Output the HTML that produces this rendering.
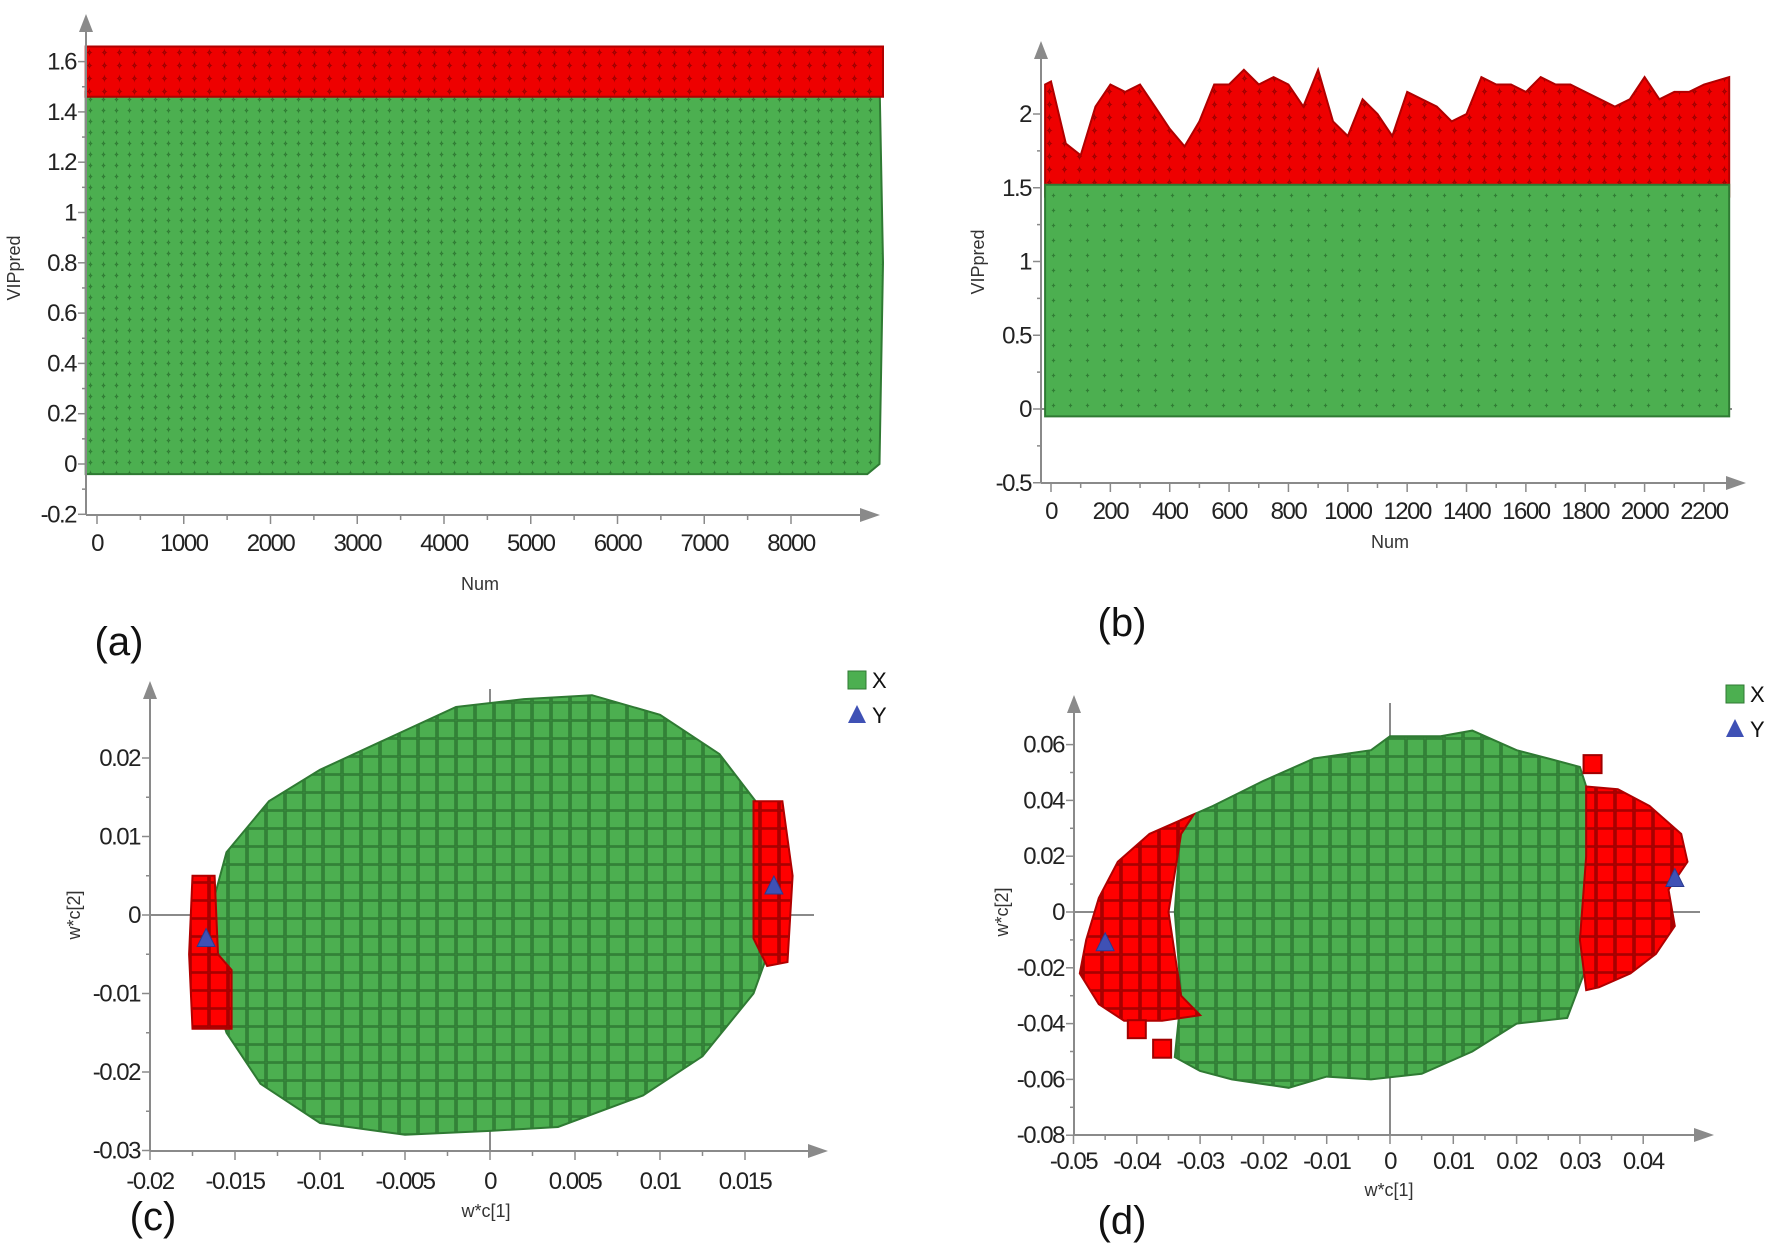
<!DOCTYPE html>
<html><head><meta charset="utf-8">
<style>
html,body{margin:0;padding:0;background:#fff;}
svg{display:block;font-family:"Liberation Sans",sans-serif;}
.tk{font-size:24px;fill:#222;letter-spacing:-1.5px;}
.ttl{font-size:18px;fill:#333;}
.pl{font-size:40px;fill:#111;}
</style></head>
<body>
<svg id="fig" width="1772" height="1258" viewBox="0 0 1772 1258" xmlns="http://www.w3.org/2000/svg">
<defs>
<pattern id="pg" width="13" height="11" patternUnits="userSpaceOnUse"><rect width="13" height="11" fill="#47a84b"/><circle cx="6" cy="6" r="8" fill="#4caf50" stroke="#2f7a33" stroke-width="1.4"/></pattern>
<pattern id="pgb" width="17" height="15" patternUnits="userSpaceOnUse"><rect width="17" height="15" fill="#45a149"/><circle cx="8" cy="8" r="11" fill="#4caf50" stroke="#2f7a33" stroke-width="1.5"/></pattern>
<pattern id="pr" width="15" height="13" patternUnits="userSpaceOnUse"><rect width="15" height="13" fill="#d00000"/><circle cx="7" cy="7" r="9" fill="#ee0000" stroke="#a00000" stroke-width="1.4"/></pattern>
<pattern id="ps" width="19" height="18" patternUnits="userSpaceOnUse"><rect width="19" height="18" fill="#3f9a44"/><rect x="1" y="1" width="17" height="17" fill="#4caf50" stroke="#2f7a33" stroke-width="1.5"/></pattern>
<pattern id="psr" width="19" height="18" patternUnits="userSpaceOnUse"><rect width="19" height="18" fill="#c00000"/><rect x="1" y="1" width="17" height="17" fill="#ff0000" stroke="#a00000" stroke-width="1.5"/></pattern>
</defs>
<g id="root"></g>
</svg>
<script>
// ---- panel (a) data ----
const aXTicks=[0,1000,2000,3000,4000,5000,6000,7000,8000];
const aYTicks=[-0.2,0,0.2,0.4,0.6,0.8,1,1.2,1.4,1.6];
const aGreenX=[-130,8880,9020,9060,9020,8880,-130];
const aGreenY=[-0.04,-0.04,0.0,0.8,1.53,1.48,1.48];
const aRedX=[-130,9060,9060,-130];
const aRedY=[1.46,1.46,1.66,1.66];
// ---- panel (b) data ----
const bXTicks=[0,200,400,600,800,1000,1200,1400,1600,1800,2000,2200];
const bYTicks=[-0.5,0,0.5,1,1.5,2];
const bTopX=[-20,0,50,100,150,200,250,300,350,400,450,500,550,600,650,700,750,800,850,900,950,1000,1050,1100,1150,1200,1250,1300,1350,1400,1450,1500,1550,1600,1650,1700,1750,1800,1850,1900,1950,2000,2050,2100,2150,2200,2285];
const bTopY=[2.2,2.22,1.8,1.72,2.05,2.2,2.15,2.2,2.05,1.9,1.78,1.95,2.2,2.2,2.3,2.2,2.25,2.2,2.05,2.3,1.95,1.85,2.1,2.0,1.85,2.15,2.1,2.05,1.95,2.0,2.25,2.2,2.2,2.15,2.25,2.2,2.2,2.15,2.1,2.05,2.1,2.25,2.1,2.15,2.15,2.2,2.25];
const bGreenX=[-20,2285,2285,-20];
const bGreenY=[-0.05,-0.05,1.52,1.52];
// ---- panel (c) data ----
const cXTicks=[-0.02,-0.015,-0.01,-0.005,0,0.005,0.01,0.015];
const cYTicks=[-0.03,-0.02,-0.01,0,0.01,0.02];
const cGreenX=[-0.0165,-0.0155,-0.013,-0.01,-0.005,-0.002,0.002,0.006,0.01,0.0135,0.0158,0.0168,0.0165,0.0155,0.0125,0.009,0.004,0,-0.005,-0.01,-0.0135,-0.0155,-0.0165];
const cGreenY=[0.0,0.008,0.0145,0.0185,0.0235,0.0265,0.0275,0.028,0.0255,0.0205,0.014,0.005,-0.004,-0.01,-0.018,-0.023,-0.027,-0.0275,-0.028,-0.0265,-0.0215,-0.015,-0.008];
const cRedLX=[-0.0175,-0.0162,-0.016,-0.0152,-0.0152,-0.0175,-0.0177];
const cRedLY=[0.005,0.005,-0.005,-0.007,-0.0145,-0.0145,-0.005];
const cRedRX=[0.0155,0.0172,0.0178,0.0175,0.0163,0.0155];
const cRedRY=[0.0145,0.0145,0.005,-0.006,-0.0065,-0.003];
const cYPtsX=[-0.0167,0.0167];
const cYPtsY=[-0.003,0.0037];
// ---- panel (d) data ----
const dXTicks=[-0.05,-0.04,-0.03,-0.02,-0.01,0,0.01,0.02,0.03,0.04];
const dYTicks=[-0.08,-0.06,-0.04,-0.02,0,0.02,0.04,0.06];
const dGreenX=[-0.033,-0.028,-0.02,-0.012,-0.003,0,0.008,0.013,0.02,0.025,0.03,0.031,0.031,0.028,0.02,0.013,0.005,-0.003,-0.01,-0.016,-0.025,-0.03,-0.034,-0.033,-0.034];
const dGreenY=[0.033,0.038,0.047,0.055,0.058,0.063,0.063,0.065,0.058,0.055,0.052,0.045,-0.02,-0.038,-0.04,-0.05,-0.058,-0.06,-0.059,-0.063,-0.06,-0.057,-0.052,-0.03,0.0];
const dRedLX=[-0.031,-0.033,-0.035,-0.033,-0.03,-0.036,-0.042,-0.046,-0.049,-0.048,-0.046,-0.043,-0.038];
const dRedLY=[0.035,0.028,0.0,-0.03,-0.037,-0.039,-0.039,-0.033,-0.022,-0.01,0.005,0.018,0.028];
const dRedRX=[0.031,0.036,0.041,0.046,0.047,0.044,0.045,0.042,0.038,0.033,0.031,0.03,0.031];
const dRedRY=[0.045,0.044,0.038,0.028,0.018,0.008,-0.005,-0.015,-0.022,-0.027,-0.028,-0.01,0.02];
const dOutX=[0.032,-0.036,-0.040];
const dOutY=[0.053,-0.049,-0.042];
const dYPtsX=[-0.045,0.045];
const dYPtsY=[-0.011,0.012];

const NS="http://www.w3.org/2000/svg";
const root=document.getElementById('root');
function mk(tag,attrs,parent){const e=document.createElementNS(NS,tag);for(const k in attrs)e.setAttribute(k,attrs[k]);(parent||root).appendChild(e);return e;}
function poly(xs,ys,sx,sy,fill,stroke,name,g){
  const pts=xs.map((x,i)=>sx(x).toFixed(1)+','+sy(ys[i]).toFixed(1)).join(' ');
  const p=mk('polygon',{points:pts,fill:fill,stroke:stroke,'stroke-width':2},g);
  
  
  return p;
}
function axes(o,g){
  const c='#8a8a8a';
  // axis lines
  const ya=mk('line',{x1:o.ax,y1:o.ay,x2:o.ax,y2:o.ytop+14,stroke:c,'stroke-width':2},g);
  
  
  mk('polygon',{points:`${o.ax-7},${o.ytop+18} ${o.ax+7},${o.ytop+18} ${o.ax},${o.ytop}`,fill:c},g);
  const xa=mk('line',{x1:o.ax,y1:o.ay,x2:o.xend-14,y2:o.ay,stroke:c,'stroke-width':2},g);
  
  
  mk('polygon',{points:`${o.xend-20},${o.ay-7} ${o.xend-20},${o.ay+7} ${o.xend},${o.ay}`,fill:c},g);
  o.xt.forEach((v,i)=>{
    const x=o.sx(v);
    mk('line',{x1:x,y1:o.ay,x2:x,y2:o.ay+9,stroke:c,'stroke-width':1.5},g);
    if(i<o.xt.length-1){const xm=(x+o.sx(o.xt[i+1]))/2;mk('line',{x1:xm,y1:o.ay,x2:xm,y2:o.ay+5,stroke:c,'stroke-width':1.5},g);}
    const t=mk('text',{x:x,y:o.ay+o.xlo,'text-anchor':'middle',class:'tk','font-size':o.fs},g);
    t.textContent=(''+v);
    
    
  });
  o.yt.forEach((v,i)=>{
    const y=o.sy(v);
    mk('line',{x1:o.ax-8,y1:y,x2:o.ax,y2:y,stroke:c,'stroke-width':1.5},g);
    if(i<o.yt.length-1){const ym=(y+o.sy(o.yt[i+1]))/2;mk('line',{x1:o.ax-4,y1:ym,x2:o.ax,y2:ym,stroke:c,'stroke-width':1.5},g);}
    const t=mk('text',{x:o.ax-10,y:y+8,'text-anchor':'end',class:'tk','font-size':o.fs},g);
    t.textContent=(''+v);
    
    
  });
  const xt=mk('text',{x:o.xtx,y:o.xty,'text-anchor':'middle',class:'ttl'},g);
  xt.textContent=o.xtitle;
  
  
  const yt=mk('text',{x:0,y:0,'text-anchor':'middle',class:'ttl',transform:`translate(${o.ytx},${o.yty}) rotate(-90)`},g);
  yt.textContent=o.ytitle;
  
  
  const pl=mk('text',{x:o.plx,y:o.ply,'text-anchor':'middle',class:'pl'},g);
  pl.textContent=o.plabel;
  
  
}
function zeroLines(o,g,vert){
  const h=mk('line',{x1:o.ax,y1:o.sy(0),x2:o.xend-14,y2:o.sy(0),stroke:'#8a8a8a','stroke-width':2},g);
  
  
  if(vert){const v=mk('line',{x1:o.sx(0),y1:o.ay,x2:o.sx(0),y2:o.ytop+8,stroke:'#8a8a8a','stroke-width':2},g);
  
  }
}
function tri(x,y,g){const t=mk('polygon',{points:`${x-9},${y+8} ${x+9},${y+8} ${x},${y-10}`,fill:'#3f51b5',stroke:'#2a3a90','stroke-width':1},g);
  
  }
function legend(x,y,g){
  const lg=mk('g',{},g);
  
  
  mk('rect',{x:x,y:y,width:18,height:18,fill:'#4caf50',stroke:'#2f7a33'},lg);
  const a=mk('text',{x:x+24,y:y+17,style:'font-size:22px;fill:#111'},lg);a.textContent='X';
  
  
  mk('polygon',{points:`${x},${y+52} ${x+18},${y+52} ${x+9},${y+34}`,fill:'#3f51b5'},lg);
  const b=mk('text',{x:x+24,y:y+52,style:'font-size:22px;fill:#111'},lg);b.textContent='Y';
  
  
}

// Panel a
(function(){
  const g=mk('g',{});
  const sx=v=>97+v*0.08675, sy=v=>464-v*251.5;
  const o={sx,sy,ax:86,ay:515,ytop:14,xend:880,xt:aXTicks,yt:aYTicks,fs:24,xlo:36,xtitle:'Num',xtx:480,xty:590,ytitle:'VIPpred',ytx:20,yty:268,plabel:'(a)',plx:119,ply:655};
  zeroLines(o,g,false);
  poly(aGreenX,aGreenY,sx,sy,'url(#pg)','#2f7a33','green-points',g);
  poly(aRedX,aRedY,sx,sy,'url(#pr)','#b00000','red-points',g);
  axes(o,g);
})();
// Panel b
(function(){
  const g=mk('g',{});
  const sx=v=>1051+v*0.2968, sy=v=>409-v*147.5;
  const o={sx,sy,ax:1041,ay:483,ytop:41,xend:1746,xt:bXTicks,yt:bYTicks,fs:22,xlo:36,xtitle:'Num',xtx:1390,xty:548,ytitle:'VIPpred',ytx:984,yty:262,plabel:'(b)',plx:1122,ply:636};
  zeroLines(o,g,false);
  const rx=bTopX.concat([2285,-20]), ry=bTopY.concat([1.44,1.44]);
  poly(rx,ry,sx,sy,'url(#pr)','#b00000','red-points',g);
  poly(bGreenX,bGreenY,sx,sy,'url(#pgb)','#2f7a33','green-points',g);
  axes(o,g);
})();
// Panel c
(function(){
  const g=mk('g',{});
  const sx=v=>490+v*17000, sy=v=>915-v*7850;
  const o={sx,sy,ax:150,ay:1151,ytop:681,xend:828,xt:cXTicks,yt:cYTicks,fs:24,xlo:38,xtitle:'w*c[1]',xtx:486,xty:1217,ytitle:'w*c[2]',ytx:80,yty:915,plabel:'(c)',plx:153,ply:1230};
  zeroLines(o,g,true);
  poly(cGreenX,cGreenY,sx,sy,'url(#ps)','#2f7a33','green-squares',g);
  poly(cRedLX,cRedLY,sx,sy,'url(#psr)','#b00000','red-squares-left',g);
  poly(cRedRX,cRedRY,sx,sy,'url(#psr)','#b00000','red-squares-right',g);
  cYPtsX.forEach((x,i)=>tri(sx(x),sy(cYPtsY[i]),g));
  axes(o,g);
  legend(848,671,g);
})();
// Panel d
(function(){
  const g=mk('g',{});
  const sx=v=>1390+v*6330, sy=v=>912-v*2790;
  const o={sx,sy,ax:1074,ay:1135,ytop:695,xend:1714,xt:dXTicks,yt:dYTicks,fs:22,xlo:34,xtitle:'w*c[1]',xtx:1389,xty:1196,ytitle:'w*c[2]',ytx:1008,yty:912,plabel:'(d)',plx:1122,ply:1234};
  zeroLines(o,g,true);
  poly(dGreenX,dGreenY,sx,sy,'url(#ps)','#2f7a33','green-squares',g);
  poly(dRedLX,dRedLY,sx,sy,'url(#psr)','#b00000','red-squares-left',g);
  poly(dRedRX,dRedRY,sx,sy,'url(#psr)','#b00000','red-squares-right',g);
  dOutX.forEach((x,i)=>{const r=mk('rect',{x:sx(x)-9,y:sy(dOutY[i])-9,width:18,height:18,fill:'#ff0000',stroke:'#a00000','stroke-width':2},g);
    
    });
  dYPtsX.forEach((x,i)=>tri(sx(x),sy(dYPtsY[i]),g));
  axes(o,g);
  legend(1726,685,g);
})();
</script>
</body></html>
